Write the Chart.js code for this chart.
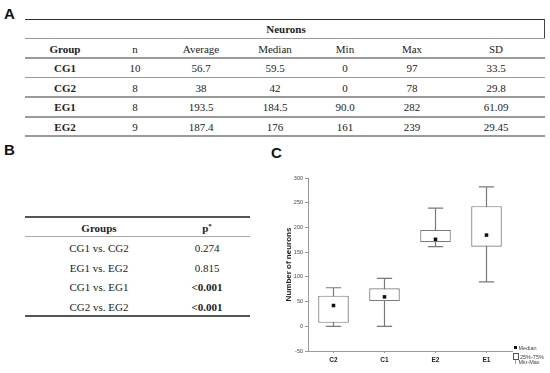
<!DOCTYPE html>
<html><head><meta charset="utf-8">
<script src="https://cdn.jsdelivr.net/npm/chart.js@4/dist/chart.umd.min.js"></script>
<style>
html,body{margin:0;padding:0;background:#fff;}
body{width:550px;height:373px;position:relative;overflow:hidden;font-family:"Liberation Serif","DejaVu Serif",serif;color:#222;}
.t{position:absolute;white-space:nowrap;font-size:11px;line-height:1;transform:translate(-50%,-50%);}
.b{font-weight:bold;}
.ln{position:absolute;}
.lab{position:absolute;font-family:"Liberation Sans",Arial,sans-serif;font-weight:bold;font-size:15px;line-height:1;color:#111;}
#cwrap{position:absolute;left:260px;top:160px;width:290px;height:213px;}
.lg{position:absolute;font-family:"Liberation Sans",Arial,sans-serif;font-size:5.5px;line-height:1;color:#444;white-space:nowrap;}
</style></head><body>
<div class="lab" style="left:4px;top:6px;">A</div>
<div class="lab" style="left:4px;top:142px;">B</div>
<div class="lab" style="left:271px;top:145px;">C</div>
<div id="tables"></div>
<div id="cwrap"><canvas id="c"></canvas></div>
<div id="legend"></div>
<script>
// ---- Table A data ----
const statHeaders = ["Group","n","Average","Median","Min","Max","SD"];
const statGroups = ["CG1","CG2","EG1","EG2"];
const statN = ["10","8","8","9"];
const statAverage = ["56.7","38","193.5","187.4"];
const statMedian = ["59.5","42","184.5","176"];
const statMin = ["0","0","90.0","161"];
const statMax = ["97","78","282","239"];
const statSD = ["33.5","29.8","61.09","29.45"];
// ---- Table B data ----
const compGroups = ["CG1 vs. CG2","EG1 vs. EG2","CG1 vs. EG1","CG2 vs. EG2"];
const compP = ["0.274","0.815","<0.001","<0.001"];
const compBold = [false,false,true,true];
// ---- Box plot data ----
const boxCategories = ["C2","C1","E2","E1"];
const boxMin = [0,0,161,90];
const boxQ1 = [7,51,170,161];
const boxMedian = [42,59.5,176,184.5];
const boxQ3 = [62,77,195,243];
const boxMax = [78,97,239,282];
const legendLabels = ["Median","25%-75%","Min-Max"];

const T = document.getElementById('tables');
function cell(text, cx, cy, bold){
  const d=document.createElement('div');
  d.className='t'+(bold?' b':'');
  d.style.left=cx+'px'; d.style.top=cy+'px';
  d.textContent=text; T.appendChild(d); return d;
}
function hline(x1,x2,y,w,color){
  const d=document.createElement('div'); d.className='ln';
  d.style.left=x1+'px'; d.style.width=(x2-x1)+'px'; d.style.top=(y-w/2)+'px';
  d.style.height=w+'px'; d.style.background=color; T.appendChild(d);
}
function vline(x,y1,y2,w,color){
  const d=document.createElement('div'); d.className='ln';
  d.style.left=(x-w/2)+'px'; d.style.top=y1+'px'; d.style.height=(y2-y1)+'px';
  d.style.width=w+'px'; d.style.background=color; T.appendChild(d);
}
// Table A
const colX=[65,135,201,275,345,412,496];
hline(25,545,19.5,1.5,'#333');
vline(544.5,19,39,1.2,'#444');
cell("Neurons",286,29,true);
const aLines=[38.5,58,77.5,97,117,136];
aLines.forEach(y=>hline(25,545,y,1.2,'#9a9a9a'));
statHeaders.forEach((h,i)=>cell(h,colX[i],48.5,i===0));
const rowsY=[68,87.5,107,126.5];
const cols=[statGroups,statN,statAverage,statMedian,statMin,statMax,statSD];
statGroups.forEach((g,r)=>{
  cols.forEach((col,c)=>cell(col[r],colX[c],rowsY[r],c===0));
});
// Table B
hline(25,250,217,1.5,'#555');
hline(25,250,236,1,'#aaa');
hline(25,250,316,1.5,'#555');
cell("Groups",99,228,true);
const ph=cell("",207,228,true); ph.innerHTML='p<sup style="font-size:7px;vertical-align:4px;">*</sup>';
const bY=[248,267.5,287,306.5];
compGroups.forEach((g,i)=>{cell(g,99,bY[i],false);cell(compP[i],207,bY[i],compBold[i]);});

// Legend for box plot
const L=document.getElementById('legend');
function lg(html,x,y){const d=document.createElement('div');d.className='lg';d.style.left=x+'px';d.style.top=y+'px';d.innerHTML=html;L.appendChild(d);}
lg('<span style="display:inline-block;width:3px;height:3px;background:#111;margin-right:2px;vertical-align:1px;"></span>'+legendLabels[0],513.5,345.5);
lg('<span style="display:inline-block;width:3.5px;height:5px;border:0.8px solid #555;margin-right:1.5px;vertical-align:-1px;"></span>'+legendLabels[1],513,352.5);
lg('<span style="display:inline-block;width:5px;text-align:center;margin-right:0.5px;">I</span>'+legendLabels[2],513,360);

// Box plot
const whiskerPlugin={
  id:'whiskers',
  beforeDatasetsDraw(chart){
    const {ctx,scales:{x,y}}=chart;
    ctx.save(); ctx.strokeStyle='#7a7a7a'; ctx.lineWidth=1.2;
    const half=x.width/boxCategories.length*0.15;
    boxCategories.forEach((c,i)=>{
      const cx=x.getPixelForValue(i);
      const y0=y.getPixelForValue(boxMin[i]), y1=y.getPixelForValue(boxMax[i]);
      ctx.beginPath();
      ctx.moveTo(cx,y0);ctx.lineTo(cx,y1);
      ctx.moveTo(cx-half,y0);ctx.lineTo(cx+half,y0);
      ctx.moveTo(cx-half,y1);ctx.lineTo(cx+half,y1);
      ctx.stroke();
    });
    ctx.restore();
  }
};
new Chart(document.getElementById('c'),{
  type:'bar',
  data:{
    labels:boxCategories,
    datasets:[
      {type:'bar',data:boxCategories.map((c,i)=>[boxQ1[i],boxQ3[i]]),backgroundColor:'#fff',borderColor:'#7a7a7a',borderWidth:1.2,borderSkipped:false,barPercentage:0.6,categoryPercentage:1,order:2},
      {type:'line',data:boxMedian,showLine:false,pointStyle:'rect',pointRadius:2.5,pointBackgroundColor:'#111',pointBorderColor:'#111',pointBorderWidth:0,order:1}
    ]
  },
  options:{
    responsive:true,maintainAspectRatio:false,animation:false,
    layout:{padding:{top:18,right:38,left:0,bottom:0}},
    plugins:{legend:{display:false},tooltip:{enabled:false}},
    scales:{
      x:{
        offset:true,
        grid:{display:true,drawOnChartArea:false,offset:false,tickLength:2,color:'#999'},
        border:{display:true,color:'#9a9a9a',width:1},
        ticks:{color:'#222',font:{family:'"Liberation Sans",Arial,sans-serif',size:6.5,weight:'bold'},padding:3},
        afterFit:(s)=>{s.height=22;}
      },
      y:{
        min:-50,max:300,
        grid:{display:true,drawOnChartArea:false,tickLength:3,color:'#999'},
        border:{display:true,color:'#9a9a9a',width:1},
        ticks:{stepSize:50,color:'#444',font:{family:'"Liberation Sans",Arial,sans-serif',size:5.5},padding:2},
        title:{display:true,text:'Number of neurons',color:'#222',font:{family:'"Liberation Sans",Arial,sans-serif',size:8,weight:'bold'},padding:{top:24,bottom:0}},
        afterFit:(s)=>{s.width=48;}
      }
    }
  },
  plugins:[whiskerPlugin]
});
</script>
</body></html>
